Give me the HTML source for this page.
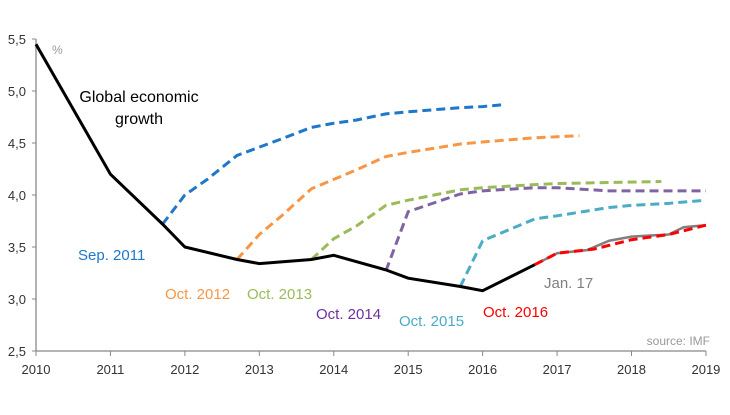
<!DOCTYPE html>
<html><head><meta charset="utf-8">
<style>
body{margin:0;background:#fff;}
svg text{font-family:"Liberation Sans",sans-serif;}
</style></head>
<body>
<svg id="chart" width="730" height="410" viewBox="0 0 730 410" xmlns="http://www.w3.org/2000/svg">
<g id="axes"></g>
<g id="series"></g>
<g id="labels"></g>
</svg>
<script>
const yTicks=[2.5,3.0,3.5,4.0,4.5,5.0,5.5];
const yTickLabels=["2,5","3,0","3,5","4,0","4,5","5,0","5,5"];
const xTicks=[2010,2011,2012,2013,2014,2015,2016,2017,2018,2019];
const actualX=[2010,2011,2011.7,2012,2012.7,2013,2013.7,2014,2014.7,2015,2015.7,2016,2016.7];
const actualY=[5.45,4.2,3.72,3.5,3.38,3.34,3.38,3.42,3.28,3.2,3.12,3.08,3.33];
const sep11X=[2011.7,2012,2012.3,2012.7,2013,2013.3,2013.7,2014,2014.3,2014.7,2015,2015.7,2016,2016.3];
const sep11Y=[3.72,4.0,4.15,4.38,4.46,4.54,4.65,4.69,4.72,4.78,4.8,4.84,4.85,4.87];
const oct12X=[2012.7,2013,2013.3,2013.7,2014,2014.3,2014.7,2015,2015.7,2016,2016.7,2017.3];
const oct12Y=[3.38,3.62,3.8,4.06,4.15,4.24,4.37,4.41,4.49,4.51,4.55,4.57];
const oct13X=[2013.7,2014,2014.3,2014.7,2015,2015.7,2016,2016.7,2017,2017.7,2018.4];
const oct13Y=[3.38,3.58,3.7,3.9,3.95,4.05,4.07,4.1,4.11,4.12,4.13];
const oct14X=[2014.7,2015,2015.7,2016,2016.7,2017,2017.7,2018,2019];
const oct14Y=[3.27,3.84,4.01,4.04,4.07,4.07,4.04,4.04,4.04];
const oct15X=[2015.7,2016,2016.7,2017,2017.7,2018,2018.5,2019];
const oct15Y=[3.12,3.56,3.77,3.8,3.88,3.9,3.92,3.95];
const jan17X=[2016.7,2017,2017.4,2017.7,2018,2018.5,2018.7,2019];
const jan17Y=[3.33,3.44,3.47,3.56,3.6,3.62,3.69,3.71];
const oct16X=[2016.7,2017,2017.5,2018,2018.5,2019];
const oct16Y=[3.33,3.44,3.48,3.57,3.62,3.71];

const NS="http://www.w3.org/2000/svg";
const x=v=>36+(v-2010)*74.44;
const y=v=>351-(v-2.5)*104;
function mk(tag,attrs,parent){const e=document.createElementNS(NS,tag);for(const k in attrs)e.setAttribute(k,attrs[k]);parent.appendChild(e);return e;}
const axes=document.getElementById('axes');
let a=mk('line',{x1:36,y1:y(5.5),x2:36,y2:351,stroke:'#888','stroke-width':1.3},axes);


a=mk('line',{x1:36,y1:351,x2:706,y2:351,stroke:'#888','stroke-width':1.3},axes);


yTicks.forEach((t,i)=>{
 mk('line',{x1:32,x2:36,y1:y(t),y2:y(t),stroke:'#888'},axes);
 const tx=mk('text',{x:26,y:y(t)+5,'text-anchor':'end','font-size':13,fill:'#333'},axes);
 tx.textContent=yTickLabels[i];
 
 
});
xTicks.forEach(t=>{
 mk('line',{x1:x(t),x2:x(t),y1:351,y2:356,stroke:'#888'},axes);
 const tx=mk('text',{x:x(t),y:374,'text-anchor':'middle','font-size':13,fill:'#333'},axes);
 tx.textContent=t;
 
 
});
const ser=document.getElementById('series');
function line(xs,ys,col,dash,name,w){
 const p=mk('polyline',{points:xs.map((v,i)=>x(v)+','+y(ys[i])).join(' '),fill:'none',stroke:col,'stroke-width':w||3,'stroke-dasharray':dash||'none'},ser);
 
 
}
line(sep11X,sep11Y,'#1f77c9','9,5','series-sep-2011');
line(oct12X,oct12Y,'#f79646','9,5','series-oct-2012');
line(oct13X,oct13Y,'#9bbb59','9,5','series-oct-2013');
line(oct14X,oct14Y,'#8064a2','9,5','series-oct-2014');
line(oct15X,oct15Y,'#4bacc6','9,5','series-oct-2015');
line(jan17X,jan17Y,'#7f7f7f',null,'series-jan-2017',2.5);
line(oct16X,oct16Y,'#ff0000','9,5','series-oct-2016');
line(actualX,actualY,'#000',null,'series-actual-growth');
const lab=document.getElementById('labels');
function txt(s,xx,yy,col,size,name,anchor){const t=mk('text',{x:xx,y:yy,fill:col,'font-size':size,'text-anchor':anchor||'start'},lab);t.textContent=s;}
txt('%',52,54,'#999',12,'unit-label');
txt('Global economic',139,102,'#000',16,'label-global-growth','middle');
txt('growth',139,124,'#000',16,'label-global-growth-2','middle');
txt('Sep. 2011',78,260,'#1f77c9',15,'label-sep-2011');
txt('Oct. 2012',165,299,'#f79646',15,'label-oct-2012');
txt('Oct. 2013',247,299,'#9bbb59',15,'label-oct-2013');
txt('Oct. 2014',316,319,'#7030a0',15,'label-oct-2014');
txt('Oct. 2015',399,326,'#4bacc6',15,'label-oct-2015');
txt('Oct. 2016',483,317,'#ff0000',15,'label-oct-2016');
txt('Jan. 17',544,288,'#808080',15,'label-jan-2017');
txt('source: IMF',710,345,'#999',12,'source-label','end');
</script>
</body></html>
